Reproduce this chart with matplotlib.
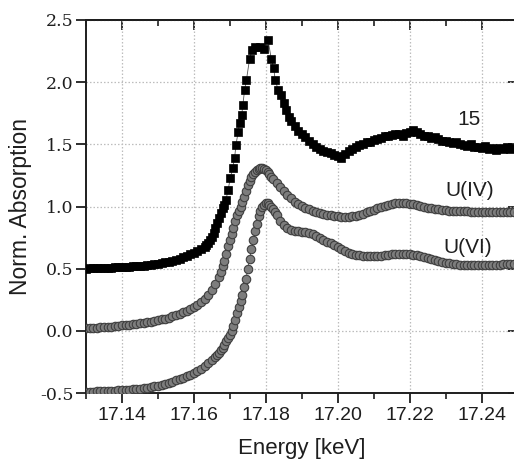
import matplotlib
matplotlib.use("Agg")
import matplotlib.pyplot as plt
from matplotlib.ticker import FixedLocator

plt.rcParams["axes.unicode_minus"] = False

# ---------------- data: normalized XANES spectra (offset for display) ----------------
# sample 15 (offset +0.5)
energy_15 = [
    17.130, 17.131, 17.132, 17.133, 17.134, 17.135, 17.136, 17.137, 17.138, 17.139,
    17.140, 17.141, 17.142, 17.143, 17.144, 17.145, 17.146, 17.147, 17.148, 17.149,
    17.150, 17.151, 17.152, 17.153, 17.154, 17.155, 17.156, 17.157, 17.158, 17.159,
    17.160, 17.161, 17.162, 17.163, 17.1635, 17.164, 17.1645, 17.165, 17.1655, 17.166,
    17.1665, 17.167, 17.1675, 17.168, 17.1685, 17.1689, 17.1695, 17.1701, 17.1708, 17.1713,
    17.1717, 17.1723, 17.1727, 17.1733, 17.1736, 17.1741, 17.1746, 17.1755, 17.1762, 17.1771,
    17.1783, 17.1794, 17.1806, 17.1815, 17.1822, 17.1826, 17.1834, 17.1843, 17.1850, 17.1856,
    17.1864,
    17.187, 17.188, 17.189, 17.190, 17.191, 17.192, 17.193, 17.194, 17.195, 17.196,
    17.197, 17.198, 17.199, 17.200, 17.201, 17.202, 17.203, 17.204, 17.205, 17.206,
    17.207, 17.208, 17.209, 17.210, 17.211, 17.212, 17.213, 17.214, 17.215, 17.216,
    17.217, 17.218, 17.219, 17.220, 17.221, 17.222, 17.223, 17.224, 17.225, 17.226,
    17.227, 17.228, 17.229, 17.230, 17.231, 17.232, 17.233, 17.234, 17.235, 17.236,
    17.237, 17.238, 17.239, 17.240, 17.241, 17.242, 17.243, 17.244, 17.245, 17.246,
    17.247, 17.248, 17.249, 17.250,
]
absorption_15 = [
    0.500, 0.502, 0.503, 0.504, 0.505, 0.506, 0.507, 0.508, 0.510, 0.511,
    0.513, 0.514, 0.516, 0.518, 0.520, 0.522, 0.525, 0.528, 0.531, 0.535,
    0.539, 0.544, 0.550, 0.556, 0.563, 0.571, 0.580, 0.590, 0.602, 0.615,
    0.628, 0.642, 0.658, 0.678, 0.692, 0.708, 0.728, 0.755, 0.790, 0.825,
    0.865, 0.910, 0.950, 0.985, 1.015, 1.052, 1.130, 1.227, 1.307, 1.388,
    1.495, 1.600, 1.670, 1.736, 1.816, 1.937, 2.017, 2.190, 2.260, 2.285,
    2.285, 2.270, 2.340, 2.190, 2.110, 2.020, 1.940, 1.900, 1.830, 1.780,
    1.720,
    1.690, 1.645, 1.610, 1.585, 1.560, 1.530, 1.500, 1.475, 1.460, 1.445,
    1.440, 1.430, 1.415, 1.405, 1.390, 1.420, 1.445, 1.460, 1.480, 1.495,
    1.500, 1.515, 1.520, 1.535, 1.545, 1.550, 1.565, 1.570, 1.575, 1.580,
    1.585, 1.570, 1.590, 1.600, 1.615, 1.600, 1.585, 1.570, 1.565, 1.550,
    1.555, 1.540, 1.525, 1.530, 1.515, 1.510, 1.520, 1.500, 1.495, 1.490,
    1.500, 1.475, 1.480, 1.470, 1.485, 1.465, 1.470, 1.455, 1.470, 1.460,
    1.475, 1.465, 1.470, 1.470,
]

# U(IV) reference (offset 0)
energy_u4 = [
    17.130, 17.131, 17.132, 17.133, 17.134, 17.135, 17.136, 17.137, 17.138, 17.139,
    17.140, 17.141, 17.142, 17.143, 17.144, 17.145, 17.146, 17.147, 17.148, 17.149,
    17.150, 17.151, 17.152, 17.153, 17.154, 17.155, 17.156, 17.157, 17.158, 17.159,
    17.160, 17.161, 17.162, 17.163, 17.164, 17.165, 17.166, 17.167,
    17.1675, 17.168, 17.1685, 17.169, 17.1695, 17.170, 17.1705, 17.171, 17.1715, 17.172,
    17.1725, 17.173, 17.1735, 17.174, 17.1745, 17.175, 17.1755, 17.176, 17.1765, 17.177,
    17.1775, 17.178, 17.1785, 17.179, 17.1795, 17.180, 17.1805, 17.181, 17.1815, 17.182,
    17.183, 17.184, 17.185, 17.186, 17.187, 17.188, 17.189, 17.190, 17.191, 17.192,
    17.193, 17.194, 17.195, 17.196, 17.197, 17.198, 17.199, 17.200, 17.201, 17.202,
    17.203, 17.204, 17.205, 17.206, 17.207, 17.208, 17.209, 17.210, 17.211, 17.212,
    17.213, 17.214, 17.215, 17.216, 17.217, 17.218, 17.219, 17.220, 17.221, 17.222,
    17.223, 17.224, 17.225, 17.226, 17.227, 17.228, 17.229, 17.230, 17.231, 17.232,
    17.233, 17.234, 17.235, 17.236, 17.237, 17.238, 17.239, 17.240, 17.241, 17.242,
    17.243, 17.244, 17.245, 17.246, 17.247, 17.248, 17.249, 17.250,
]
absorption_u4 = [
    0.020, 0.022, 0.024, 0.026, 0.028, 0.030, 0.032, 0.034, 0.037, 0.040,
    0.043, 0.046, 0.049, 0.052, 0.056, 0.060, 0.064, 0.068, 0.073, 0.079,
    0.085, 0.092, 0.099, 0.107, 0.116, 0.126, 0.137, 0.149, 0.162, 0.176,
    0.192, 0.210, 0.230, 0.258, 0.290, 0.330, 0.375, 0.430,
    0.475, 0.520, 0.565, 0.620, 0.680, 0.730, 0.780, 0.830, 0.880, 0.930,
    0.965, 1.000, 1.040, 1.080, 1.125, 1.170, 1.205, 1.235, 1.260, 1.280,
    1.295, 1.305, 1.310, 1.310, 1.300, 1.290, 1.275, 1.260, 1.240, 1.220,
    1.185, 1.155, 1.125, 1.095, 1.065, 1.040, 1.020, 1.005, 0.990, 0.978,
    0.967, 0.957, 0.948, 0.940, 0.934, 0.928, 0.923, 0.920, 0.918, 0.917,
    0.918, 0.921, 0.926, 0.933, 0.942, 0.952, 0.963, 0.975, 0.987, 0.998,
    1.008, 1.016, 1.022, 1.026, 1.028, 1.028, 1.026, 1.022, 1.017, 1.011,
    1.004, 0.997, 0.991, 0.985, 0.980, 0.976, 0.972, 0.969, 0.967, 0.965,
    0.963, 0.962, 0.961, 0.960, 0.959, 0.958, 0.957, 0.956, 0.956, 0.955,
    0.955, 0.954, 0.954, 0.953, 0.953, 0.952, 0.952, 0.952,
]

# U(VI) reference (offset -0.5)
energy_u6 = [
    17.130, 17.131, 17.132, 17.133, 17.134, 17.135, 17.136, 17.137, 17.138, 17.139,
    17.140, 17.141, 17.142, 17.143, 17.144, 17.145, 17.146, 17.147, 17.148, 17.149,
    17.150, 17.151, 17.152, 17.153, 17.154, 17.155, 17.156, 17.157, 17.158, 17.159,
    17.160, 17.161, 17.162, 17.163, 17.164, 17.165, 17.166,
    17.1665, 17.167, 17.1675, 17.168, 17.1685, 17.169, 17.1695, 17.170, 17.1705, 17.171,
    17.1715, 17.172, 17.1725, 17.173, 17.1735, 17.174, 17.1745, 17.175, 17.1755, 17.176,
    17.1765, 17.177, 17.1775, 17.178, 17.1785, 17.179, 17.1795, 17.180, 17.1805, 17.181,
    17.1815, 17.182, 17.1825, 17.183,
    17.184, 17.185, 17.186, 17.187, 17.188, 17.189, 17.190, 17.191, 17.192, 17.193,
    17.194, 17.195, 17.196, 17.197, 17.198, 17.199, 17.200, 17.201, 17.202, 17.203,
    17.204, 17.205, 17.206, 17.207, 17.208, 17.209, 17.210, 17.211, 17.212, 17.213,
    17.214, 17.215, 17.216, 17.217, 17.218, 17.219, 17.220, 17.221, 17.222, 17.223,
    17.224, 17.225, 17.226, 17.227, 17.228, 17.229, 17.230, 17.231, 17.232, 17.233,
    17.234, 17.235, 17.236, 17.237, 17.238, 17.239, 17.240, 17.241, 17.242, 17.243,
    17.244, 17.245, 17.246, 17.247, 17.248, 17.249, 17.250,
]
absorption_u6 = [
    -0.490, -0.489, -0.488, -0.487, -0.486, -0.485, -0.484, -0.483, -0.481, -0.479,
    -0.477, -0.475, -0.473, -0.470, -0.467, -0.464, -0.460, -0.456, -0.451, -0.446,
    -0.440, -0.433, -0.426, -0.418, -0.409, -0.399, -0.388, -0.377, -0.366, -0.355,
    -0.342, -0.326, -0.307, -0.285, -0.262, -0.237, -0.210,
    -0.193, -0.175, -0.155, -0.135, -0.110, -0.085, -0.058, -0.030, 0.000, 0.040,
    0.090, 0.140, 0.190, 0.240, 0.290, 0.350, 0.420, 0.500, 0.580, 0.660,
    0.730, 0.800, 0.860, 0.920, 0.965, 0.995, 1.015, 1.025, 1.025, 1.015,
    1.000, 0.980, 0.955, 0.930,
    0.885, 0.855, 0.830, 0.815, 0.805, 0.800, 0.797, 0.792, 0.785, 0.775,
    0.762, 0.748, 0.733, 0.718, 0.703, 0.688, 0.672, 0.656, 0.641, 0.628,
    0.618, 0.611, 0.607, 0.604, 0.602, 0.601, 0.601, 0.602, 0.604, 0.607,
    0.611, 0.615, 0.618, 0.619, 0.619, 0.617, 0.616, 0.612, 0.606, 0.599,
    0.591, 0.582, 0.574, 0.566, 0.559, 0.553, 0.548, 0.543, 0.539, 0.536,
    0.533, 0.531, 0.530, 0.529, 0.528, 0.528, 0.528, 0.528, 0.529, 0.530,
    0.531, 0.532, 0.534, 0.536, 0.538, 0.540, 0.542,
]

series_labels = ["15", "U(IV)", "U(VI)"]
label_x = [17.2364, 17.2367, 17.2361]
label_y = [1.696, 1.125, 0.674]

x_major = [17.14, 17.16, 17.18, 17.20, 17.22, 17.24]
x_major_labels = ["17.14", "17.16", "17.18", "17.20", "17.22", "17.24"]
x_minor = [17.13, 17.15, 17.17, 17.19, 17.21, 17.23, 17.25]
y_major = [-0.5, 0.0, 0.5, 1.0, 1.5, 2.0, 2.5]
y_major_labels = ["-0.5", "0.0", "0.5", "1.0", "1.5", "2.0", "2.5"]

# ---------------- figure ----------------
W, H = 514, 462
fig = plt.figure(figsize=(W / 100, H / 100), dpi=100)
ax = fig.add_axes([86 / W, 69 / H, (517.6 - 86) / W, 373 / H])

sans = "Liberation Sans"
serif = "DejaVu Serif"
ink = "#1e1e1e"

grey_face = "#7d7d7d"
grey_edge = "#3f3f3f"

ax.plot(energy_u6, absorption_u6, "-", color=grey_edge, lw=0.6, zorder=2)
ax.plot(energy_u6, absorption_u6, "o", ms=6.1, mfc=grey_face, mec=grey_edge,
        mew=0.8, zorder=3)
ax.plot(energy_u4, absorption_u4, "-", color=grey_edge, lw=0.6, zorder=2)
ax.plot(energy_u4, absorption_u4, "o", ms=6.1, mfc=grey_face, mec=grey_edge,
        mew=0.8, zorder=3)
ax.plot(energy_15, absorption_15, "-", color="#555555", lw=0.6, zorder=4)
ax.plot(energy_15, absorption_15, "s", ms=5.6, mfc="black", mec="black",
        mew=0.5, zorder=5)

for txt, tx, ty in zip(series_labels, label_x, label_y):
    ax.text(tx, ty, txt, ha="center", va="center", fontsize=15,
            family=sans, color=ink, zorder=6)

ax.set_xlim(17.13, 17.25)
ax.set_ylim(-0.5, 2.5)

ax.xaxis.set_major_locator(FixedLocator(x_major))
ax.xaxis.set_minor_locator(FixedLocator(x_minor))
ax.set_xticklabels(x_major_labels)
ax.yaxis.set_major_locator(FixedLocator(y_major))
ax.set_yticklabels(y_major_labels)

ax.grid(True, which="major", linestyle=(0, (1.2, 1.6)), color="#bdbdbd",
        linewidth=0.9, zorder=0)
ax.set_axisbelow(True)

for side in ["left", "bottom", "top", "right"]:
    ax.spines[side].set_linewidth(1.4)
    ax.spines[side].set_color(ink)

ax.tick_params(axis="x", which="major", direction="out", length=7, width=1.3,
               color=ink, pad=3, labelsize=14, labelcolor=ink)
ax.tick_params(axis="x", which="minor", direction="out", length=4.5, width=1.2,
               color=ink)
ax.tick_params(axis="y", which="major", direction="out", length=7, width=1.3,
               color=ink, pad=2, labelsize=12.5, labelcolor=ink)
for lbl in ax.get_xticklabels():
    lbl.set_family(sans)
for lbl in ax.get_yticklabels():
    lbl.set_family(serif)

# inward ticks on the top and right edges
top = ax.secondary_xaxis("top")
top.xaxis.set_major_locator(FixedLocator(x_major))
top.xaxis.set_minor_locator(FixedLocator(x_minor))
top.tick_params(axis="x", which="major", direction="in", length=7, width=1.3,
                color=ink, labeltop=False)
top.tick_params(axis="x", which="minor", direction="in", length=4.5, width=1.2,
                color=ink)
top.spines["top"].set_linewidth(1.4)
top.spines["top"].set_color(ink)

right = ax.secondary_yaxis("right")
right.yaxis.set_major_locator(FixedLocator(y_major))
right.tick_params(axis="y", which="major", direction="in", length=7, width=1.3,
                  color=ink, labelright=False)

ax.set_xlabel("Energy [keV]", fontsize=16, family=sans, color=ink, labelpad=10)
ax.set_ylabel("Norm. Absorption", fontsize=16.5, family=sans, color=ink,
              labelpad=6)

fig.savefig("out.png", dpi=100)
